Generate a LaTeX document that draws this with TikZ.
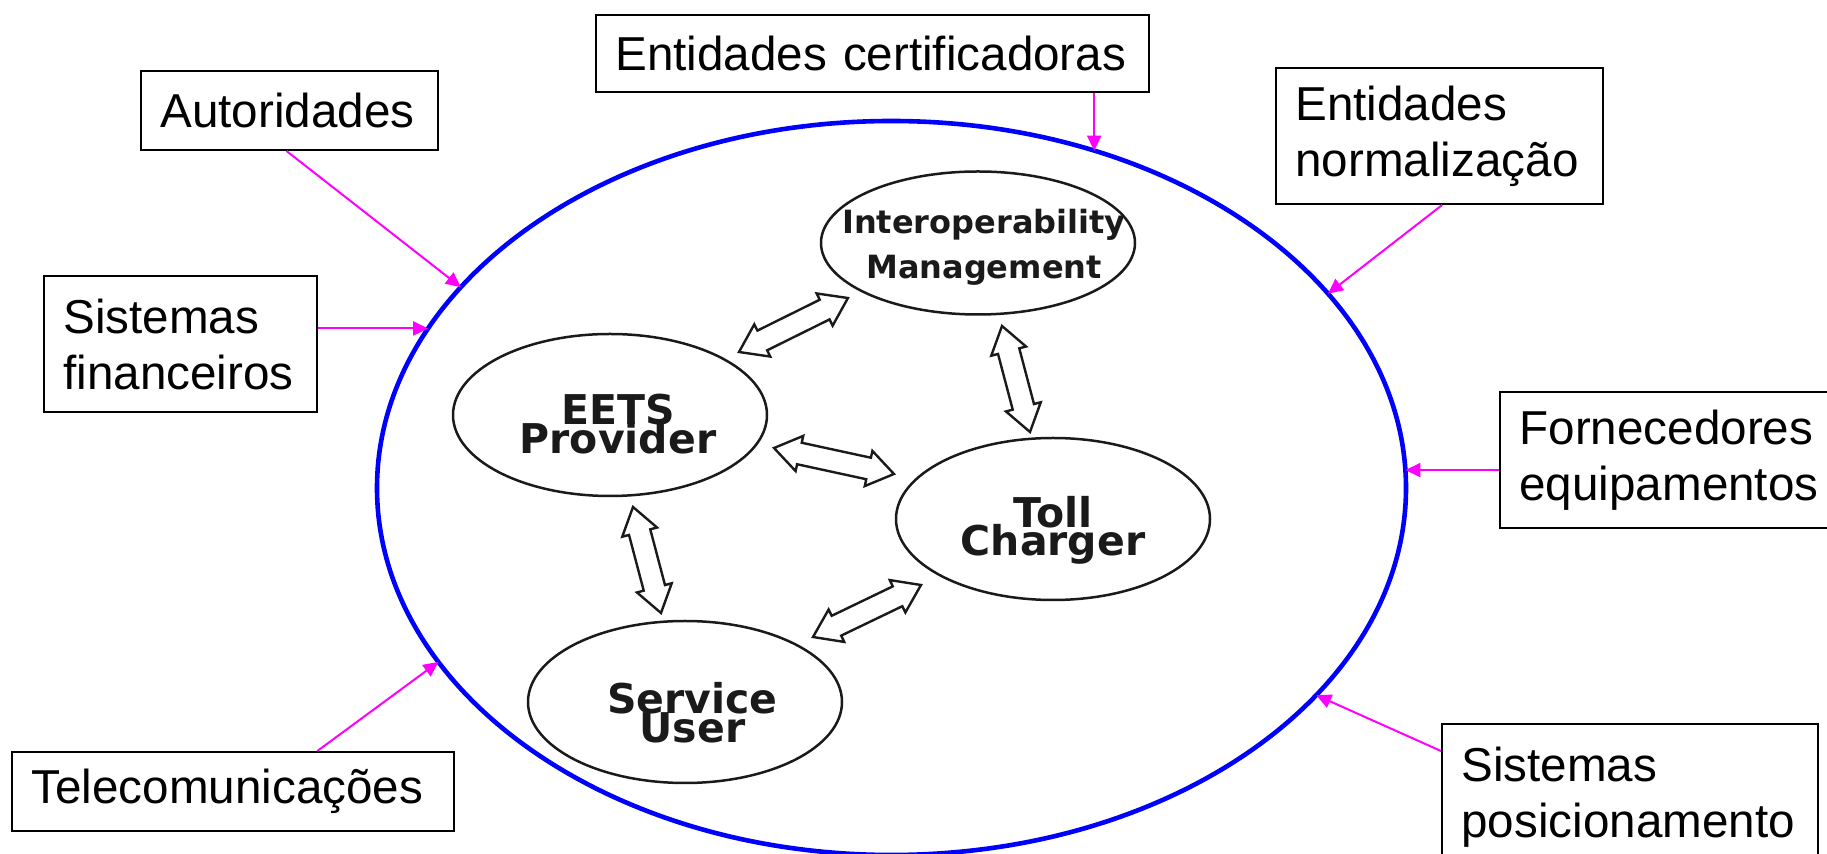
\documentclass[tikz,border=0pt]{standalone}
\usepackage{fontspec}
\setmainfont{Liberation Sans}
\newfontfamily\ellfont{DejaVu Sans}
\usetikzlibrary{calc,arrows.meta,shapes.geometric}
\definecolor{mag}{HTML}{FF00FF}
\definecolor{ink}{HTML}{1A1A1A}
\newcommand\boxfnt{\fontsize{23.8pt}{28pt}\selectfont}
\newcommand\ellfnt[2]{\ellfont\bfseries\fontsize{#1}{#2}\selectfont\lineskiplimit=-100pt\lineskip=0pt}
\newcommand\dblarrow[2]{%
  \path let \p1=($(#2)-(#1)$), \n1={atan2(\y1,\x1)}, \n2={veclen(\x1,\y1)} in
    \pgfextra{\pgfmathsetmacro\myang{\n1}\pgfmathsetmacro\mylen{\n2}\xdef\arrang{\myang}\xdef\arrlen{\mylen}};
  \begin{scope}[shift={(#1)}, rotate=\arrang]
    \draw[blockarrow] (0pt,0pt) -- (13pt,9pt) -- (13pt,5.5pt) -- (\arrlen pt-13pt,5.5pt)
      -- (\arrlen pt-13pt,9pt) -- (\arrlen pt,0pt) -- (\arrlen pt-13pt,-9pt)
      -- (\arrlen pt-13pt,-5.5pt) -- (13pt,-5.5pt) -- (13pt,-9pt) -- cycle;
  \end{scope}}
\begin{document}
\begin{tikzpicture}[x=0.5pt,y=-0.5pt,
  bigell/.style={ellipse, draw=blue, line width=2.3pt, minimum width=514.5pt, minimum height=367pt, inner sep=0pt, outer sep=0pt},
  actor/.style={ellipse, draw=ink, line width=1.25pt, minimum width=157pt, minimum height=81pt, inner sep=0pt, outer sep=0pt},
  acttext/.style={align=center, inner sep=0pt, text=ink},
  box/.style={draw=black, line width=1pt, anchor=north west, inner xsep=9.5pt, inner ysep=0pt, align=left, font=\boxfnt},
  link/.style={draw=mag, line width=1pt, -{Triangle[length=7.5pt,width=7pt]}},
  blockarrow/.style={draw=ink, line width=1.2pt, fill=white, line join=miter}]
\useasboundingbox (0,0) rectangle (1827,854);
\clip (0,0) rectangle (1827,854);

% big ellipse
\node[bigell] (big) at (891.5,488) {};

% actors
\node[actor, minimum height=71.5pt] (iop) at (978,243) {};
\node[acttext, font=\ellfnt{16pt}{22.5pt}] (iopT) at (984,247) {Interoperability\\Management};
\node[actor] (eets) at (610,415) {};
\node[acttext, font=\ellfnt{20.5pt}{14.5pt}] (eetsT) at (618,424.5) {EETS\\Provider};
\node[actor] (toll) at (1053,519) {};
\node[acttext, font=\ellfnt{20.5pt}{14pt}] (tollT) at (1053,530.5) {Toll\\Charger};
\node[actor] (serv) at (685,702) {};
\node[acttext, font=\ellfnt{20.5pt}{14.5pt}] (servT) at (692.5,712.5) {Service\\User};

% block arrows
\coordinate (a1) at (739,352); \coordinate (b1) at (848,298);
\coordinate (a2) at (1002,326); \coordinate (b2) at (1030,432);
\coordinate (a3) at (774,448); \coordinate (b3) at (894,474);
\coordinate (a4) at (633,507); \coordinate (b4) at (661,613);
\coordinate (a5) at (813,637); \coordinate (b5) at (921,585);
\dblarrow{a1}{b1}
\dblarrow{a2}{b2}
\dblarrow{a3}{b3}
\dblarrow{a4}{b4}
\dblarrow{a5}{b5}

% boxes
\node[box, minimum width=276.5pt, minimum height=38.5pt, text width=257pt] (cert) at (595,14) {\mbox{Entidades certificadoras}};
\node[box, minimum width=148.5pt, minimum height=39.5pt, text width=129pt] (aut) at (140,70) {\mbox{Autoridades}};
\node[box, minimum width=136.5pt, minimum height=68pt, text width=117pt] (fin) at (43,275) {\mbox{Sistemas}\\\mbox{financeiros}};
\node[box, minimum width=163.5pt, minimum height=68pt, text width=144pt] (norm) at (1275,67) {\mbox{Entidades}\\\mbox{normalização}};
\node[box, minimum width=170.5pt, minimum height=68pt, text width=151pt] (forn) at (1499,391) {\mbox{Fornecedores}\\\mbox{equipamentos}};
\node[box, minimum width=188pt, minimum height=73.5pt, text width=168.5pt] (pos) at (1441,723) {\mbox{Sistemas}\\\mbox{posicionamento}};
\node[box, minimum width=221pt, minimum height=39.5pt, text width=201.5pt] (tel) at (11,751) {\mbox{Telecomunicações}};

% magenta links
\coordinate (tc) at (big.59.1);
\coordinate (tf) at (big.2.8);
\coordinate (tfin) at (big.161.7);
\draw[link] ($(aut.south west)!0.49!(aut.south east)$) -- (big.155.6);
\draw[link] (tfin -| fin.east) -- (tfin);
\draw[link] (tc |- cert.south) -- (tc);
\draw[link] ($(norm.south west)!0.508!(norm.south east)$) -- (big.24.6);
\draw[link] (tf -| forn.west) -- (tf);
\draw[link] ($(pos.north west)+(0,28)$) -- (big.-26.75);
\draw[link] ($(tel.north west)!0.69!(tel.north east)$) -- (big.201.95);
\end{tikzpicture}
\end{document}
